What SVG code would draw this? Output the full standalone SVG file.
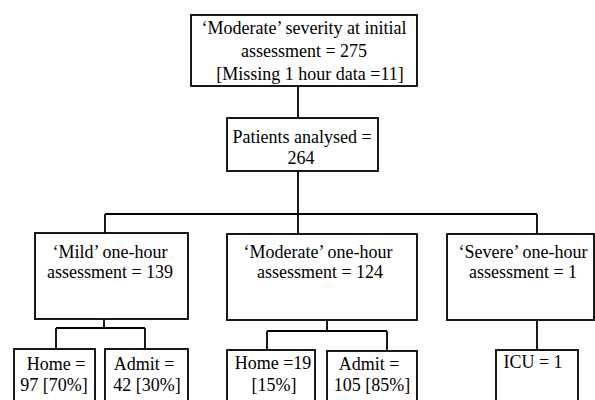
<svg xmlns="http://www.w3.org/2000/svg" width="595" height="400" viewBox="0 0 595 400" font-family="'Liberation Serif', 'Times New Roman', 'DejaVu Serif', serif">
<style>
.box{fill:#fff;stroke:#000;stroke-width:1.8}
.ln{fill:none;stroke:#000;stroke-width:1.8}
text{font-family:'Liberation Serif','Times New Roman','DejaVu Serif',serif;font-size:18px;fill:#000;text-anchor:middle}
</style>
<rect width="595" height="400" fill="#fff"/>
<g id="connectors">
<path class="ln" d="M298 86V118M298 171V234M105 214H537M105 214V233M537 214V234"/>
<path class="ln" d="M104 319V328M56 328H145M56 328V349M145 328V349"/>
<path class="ln" d="M327 320V331M267 331H387M267 331V350M387 331V351"/>
<path class="ln" d="M537 320V350"/>
</g>
<g id="n_initial">
<rect class="box" x="191" y="15" width="226" height="71"/>
<text x="304" y="34">‘Moderate’ severity at initial</text>
<text x="304" y="57">assessment = 275</text>
<text x="310" y="80">[Missing 1 hour data =11]</text>
</g>
<g id="n_analysed">
<rect class="box" x="227" y="118" width="151" height="53"/>
<text x="302" y="143">Patients analysed =</text>
<text x="301" y="164">264</text>
</g>
<g id="n_mild">
<rect class="box" x="35" y="233" width="153" height="86"/>
<text x="110" y="258">‘Mild’ one-hour</text>
<text x="110" y="278">assessment = 139</text>
</g>
<g id="n_moderate">
<rect class="box" x="227" y="234" width="190" height="86"/>
<text x="318" y="258">‘Moderate’ one-hour</text>
<text x="320" y="278">assessment = 124</text>
</g>
<g id="n_severe">
<rect class="box" x="447" y="234" width="147" height="86"/>
<text x="523" y="258">‘Severe’ one-hour</text>
<text x="523" y="278">assessment = 1</text>
</g>
<g id="n_mild_home">
<rect class="box" x="14" y="349" width="81" height="60"/>
<text x="56" y="370">Home =</text>
<text x="54" y="391">97 [70%]</text>
</g>
<g id="n_mild_admit">
<rect class="box" x="105" y="349" width="83" height="60"/>
<text x="144" y="370">Admit =</text>
<text x="147" y="391">42 [30%]</text>
</g>
<g id="n_mod_home">
<rect class="box" x="227" y="350" width="88" height="60"/>
<text x="273" y="369">Home =19</text>
<text x="274" y="391">[15%]</text>
</g>
<g id="n_mod_admit">
<rect class="box" x="327" y="351" width="90" height="60"/>
<text x="369" y="370">Admit =</text>
<text x="372" y="391">105 [85%]</text>
</g>
<g id="n_icu">
<rect class="box" x="496" y="350" width="82" height="60"/>
<text x="533" y="368">ICU = 1</text>
</g>
</svg>
